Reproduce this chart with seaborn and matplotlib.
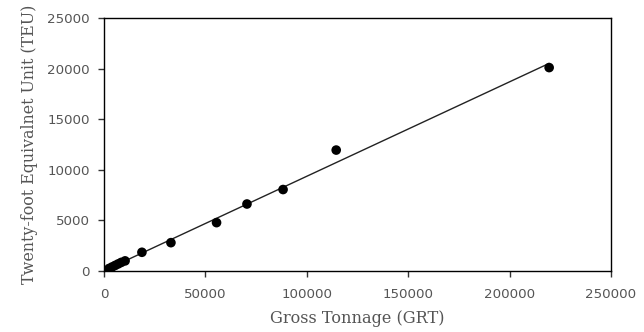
import numpy as np
import pandas as pd
import matplotlib
matplotlib.use("Agg")
import matplotlib.pyplot as plt
import seaborn as sns

grt = [2500, 4000, 5500, 7000, 8500, 10400, 18700, 33000, 55500, 70500, 88300, 114500, 219500]
teu = [250, 400, 550, 700, 850, 1000, 1850, 2800, 4780, 6620, 8050, 11950, 20100]
xticks = [0, 50000, 100000, 150000, 200000, 250000]
yticks = [0, 5000, 10000, 15000, 20000, 25000]

df = pd.DataFrame({"GRT": grt, "TEU": teu})

sns.set_theme(style="white")
fig = plt.figure(figsize=(6.44, 3.32), dpi=100)
ax = fig.add_axes([104/644, 1-271/332, (611-104)/644, (271-18)/332])

sns.regplot(data=df, x="GRT", y="TEU", ax=ax, ci=None, truncate=True,
            scatter_kws=dict(s=48, color="black", edgecolor="none", alpha=1, zorder=3),
            line_kws=dict(color="#222222", lw=1.0))

ax.set_xlim(0, 250000)
ax.set_ylim(0, 25000)
ax.set_xticks(xticks)
ax.set_yticks(yticks)
ax.set_xticklabels([str(v) for v in xticks])
ax.set_yticklabels([str(v) for v in yticks])
ax.tick_params(axis="both", which="both", direction="out", length=4, width=1,
               color="#333333", labelcolor="#555555", labelsize=9.6,
               bottom=True, left=True, top=False, right=False, pad=6)
ax.tick_params(axis="x", pad=8)
for s in ax.spines.values():
    s.set_color("black")
    s.set_linewidth(1.0)
ax.set_xlabel("Gross Tonnage (GRT)", family="DejaVu Serif", fontsize=11.6,
              color="#555555", labelpad=7)
ax.set_ylabel("Twenty-foot Equivalnet Unit (TEU)", family="DejaVu Serif",
              fontsize=11.4, color="#555555", labelpad=7)

fig.savefig("out.png", dpi=100)
